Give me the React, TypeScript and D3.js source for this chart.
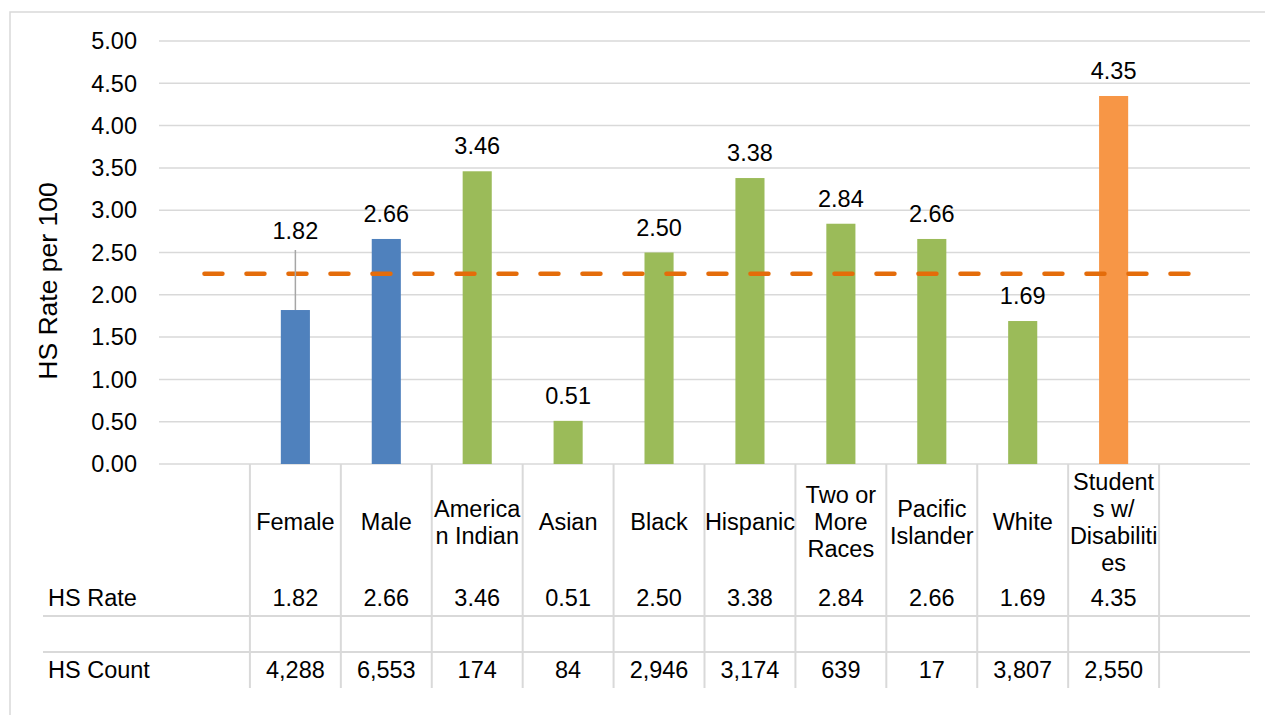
import React from "react";
import * as d3 from "d3";

const categories: string[][] = [
  ["Female"],
  ["Male"],
  ["America", "n Indian"],
  ["Asian"],
  ["Black"],
  ["Hispanic"],
  ["Two or", "More", "Races"],
  ["Pacific", "Islander"],
  ["White"],
  ["Student", "s w/", "Disabiliti", "es"],
];
const keys = ["Female", "Male", "American Indian", "Asian", "Black", "Hispanic", "Two or More Races", "Pacific Islander", "White", "Students w/ Disabilities"];
const groups = ["gender", "gender", "race", "race", "race", "race", "race", "race", "race", "swd"];
const hsRate = [1.82, 2.66, 3.46, 0.51, 2.5, 3.38, 2.84, 2.66, 1.69, 4.35];
const hsCount = [4288, 6553, 174, 84, 2946, 3174, 639, 17, 3807, 2550];
const overallRate = 2.25;
const yTicks = [0, 0.5, 1, 1.5, 2, 2.5, 3, 3.5, 4, 4.5, 5];

const colors: Record<string, string> = { gender: "#4F81BD", race: "#9BBB59", swd: "#F79646" };
const FONT = "'Liberation Sans', Arial, sans-serif";
const GRID = "#D9D9D9";

export default function App() {
  const W = 1265, H = 715;
  const left = 159, right = 1250, top = 41, bottom = 464;
  const domain = ["__start", ...keys, "__end"];
  const x = d3.scaleBand<string>().domain(domain).range([left, right]).padding(0);
  const bw = x.bandwidth();
  const barW = bw * 0.32;
  const y = d3.scaleLinear().domain([0, 5]).range([bottom, top]);
  const fmt2 = d3.format(".2f");
  const fmtC = d3.format(",");
  const fs = 23.5;

  const lineX1 = (x("__start") as number) + bw / 2;
  const lineX2 = (x("__end") as number) + bw / 2;

  const tableTop = bottom;
  const row1 = 616, row2 = 652, tableBottom = 688;
  const catCenterY = 522;
  const lineH = 27;

  return (
    <svg width={W} height={H} style={{ display: "block", position: "absolute", left: 0, top: 0 }} fontFamily={FONT}>
      <rect x={0} y={0} width={W} height={H} fill="#fff" />
      {/* outer border */}
      <path d={`M10,${H} V12 H${W}`} fill="none" stroke={GRID} strokeWidth={1.5} />
      {/* gridlines */}
      {yTicks.map((t) => (
        <g key={t}>
          <line x1={left} x2={right} y1={y(t)} y2={y(t)} stroke={GRID} strokeWidth={1.5} />
          <text x={137} y={y(t)} dy="0.35em" textAnchor="end" fontSize={fs} fill="#000">
            {fmt2(t)}
          </text>
        </g>
      ))}
      {/* axis title */}
      <text transform={`translate(48,281) rotate(-90)`} textAnchor="middle" dy="0.35em" fontSize={26.5} fill="#000">
        HS Rate per 100
      </text>
      {/* bars */}
      {keys.map((k, i) => (
        <rect key={k} x={(x(k) as number) + (bw - barW) / 2} y={y(hsRate[i])} width={barW} height={bottom - y(hsRate[i])} fill={colors[groups[i]]} />
      ))}
      {/* dashed overall line */}
      <line x1={lineX1} x2={lineX2} y1={y(overallRate)} y2={y(overallRate)} stroke="#E46C0A" strokeWidth={4.5} strokeDasharray="18 24" strokeLinecap="round" />
      {/* value labels */}
      {keys.map((k, i) => {
        const cx = (x(k) as number) + bw / 2;
        const moved = i === 0;
        const by = moved ? 239 : y(hsRate[i]) - 17;
        return (
          <g key={k}>
            {moved && <line x1={cx} x2={cx} y1={by + 11} y2={y(hsRate[i])} stroke="#A6A6A6" strokeWidth={1.5} />}
            <text x={cx} y={by} textAnchor="middle" fontSize={fs} fill="#000">
              {fmt2(hsRate[i])}
            </text>
          </g>
        );
      })}
      {/* data table lines */}
      {[row1, row2].map((ry) => (
        <line key={ry} x1={43} x2={right} y1={ry} y2={ry} stroke={GRID} strokeWidth={2} />
      ))}
      {[...keys, "__end"].map((k) => (
        <line key={k} x1={x(k) as number} x2={x(k) as number} y1={tableTop} y2={tableBottom} stroke={GRID} strokeWidth={2} />
      ))}
      {/* table text */}
      {keys.map((k, i) => {
        const cx = (x(k) as number) + bw / 2;
        const lines = categories[i];
        const y0 = catCenterY - ((lines.length - 1) * lineH) / 2;
        return (
          <g key={k}>
            {lines.map((ln, j) => (
              <text key={j} x={cx} y={y0 + j * lineH} dy="0.35em" textAnchor="middle" fontSize={fs} fill="#000">
                {ln}
              </text>
            ))}
            <text x={cx} y={598} dy="0.35em" textAnchor="middle" fontSize={fs} fill="#000">
              {fmt2(hsRate[i])}
            </text>
            <text x={cx} y={670} dy="0.35em" textAnchor="middle" fontSize={fs} fill="#000">
              {fmtC(hsCount[i])}
            </text>
          </g>
        );
      })}
      <text x={48} y={598} dy="0.35em" fontSize={fs} fill="#000">HS Rate</text>
      <text x={48} y={670} dy="0.35em" fontSize={fs} fill="#000">HS Count</text>
    </svg>
  );
}
